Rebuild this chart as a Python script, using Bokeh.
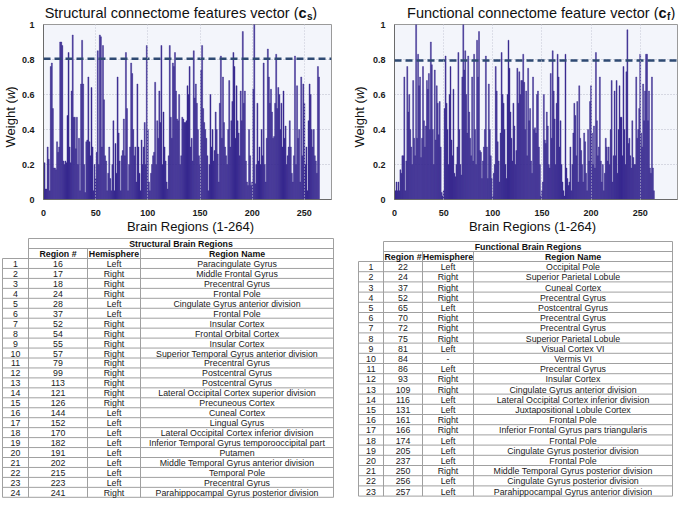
import math
from bokeh.plotting import figure
from bokeh.models import Range1d, Span, FixedTicker
from bokeh.layouts import column, row
from bokeh.core.properties import value
from bokeh.embed import file_html
from bokeh.resources import INLINE

# ---------------- data ----------------
regions = list(range(1, 265))

struct_w = [
    0.21, 0.06, 0.06, 0.30, 0.23, 0.05, 0.76, 0.78, 0.52, 0.18,
    0.18, 0.17, 0.33, 0.27, 0.30, 0.90, 0.90, 0.88, 0.22, 0.20,
    0.22, 0.21, 0.48, 0.84, 0.30, 0.21, 0.62, 0.94, 0.47, 0.47,
    0.29, 0.47, 0.20, 0.35, 0.05, 0.66, 0.91, 0.66, 0.20, 0.04,
    0.33, 0.34, 0.70, 0.33, 0.25, 0.64, 0.30, 0.05, 0.20, 0.12,
    0.27, 0.85, 0.20, 0.94, 0.93, 0.30, 0.88, 0.57, 0.25, 0.22,
    0.05, 0.15, 0.30, 0.12, 0.05, 0.20, 0.45, 0.05, 0.32, 0.15,
    0.70, 0.38, 0.22, 0.05, 0.25, 0.28, 0.46, 0.25, 0.84, 0.52,
    0.05, 0.20, 0.30, 0.78, 0.72, 0.40, 0.25, 0.30, 0.10, 0.66,
    0.30, 0.15, 0.05, 0.34, 0.20, 0.30, 0.44, 0.20, 0.88, 0.40,
    0.10, 0.05, 0.15, 0.20, 0.25, 0.27, 0.67, 0.20, 0.45, 0.35,
    0.62, 0.44, 0.88, 0.20, 0.50, 0.30, 0.22, 0.10, 0.06, 0.25,
    0.88, 0.47, 0.35, 0.78, 0.76, 0.84, 0.62, 0.46, 0.45, 0.60,
    0.20, 0.25, 0.47, 0.46, 0.44, 0.44, 0.45, 0.65, 0.60, 0.76,
    0.30, 0.35, 0.22, 0.85, 0.58, 0.66, 0.55, 0.40, 0.25, 0.20,
    0.74, 0.88, 0.52, 0.44, 0.40, 0.35, 0.25, 0.05, 0.20, 0.60,
    0.30, 0.40, 0.22, 0.28, 0.50, 0.40, 0.26, 0.10, 0.55, 0.82,
    0.35, 0.70, 0.44, 0.30, 0.25, 0.20, 0.40, 0.68, 0.30, 0.45,
    0.56, 0.84, 0.76, 0.35, 0.65, 0.45, 0.38, 0.25, 0.62, 0.45,
    0.96, 0.55, 0.62, 0.22, 0.10, 0.08, 0.40, 0.25, 0.08, 0.10,
    0.63, 1.00, 0.09, 0.20, 0.55, 0.22, 0.30, 0.20, 0.40, 0.25,
    0.78, 0.20, 0.10, 0.35, 0.86, 0.70, 0.55, 0.63, 0.50, 0.35,
    0.36, 0.55, 0.83, 0.52, 0.64, 0.60, 0.40, 0.55, 0.30, 0.62,
    0.35, 0.42, 0.20, 0.25, 0.30, 0.45, 0.30, 0.15, 0.10, 0.25,
    0.82, 0.20, 0.65, 0.35, 0.40, 0.10, 0.70, 0.25, 0.66, 0.55,
    0.20, 0.30, 0.05, 0.45, 0.66, 0.60, 0.40, 0.30, 0.40, 0.25,
    0.22, 0.15, 0.76, 0.70,
]

func_w = [
    0.05, 0.10, 0.05, 0.10, 0.05, 0.17, 0.15, 0.25, 0.25, 0.70,
    0.05, 0.22, 0.76, 0.50, 0.60, 0.40, 0.30, 0.20, 0.68, 0.35,
    0.25, 1.00, 0.35, 0.83, 0.65, 0.70, 0.24, 0.35, 0.76, 0.45,
    0.30, 0.42, 0.68, 0.63, 0.72, 0.40, 0.90, 0.77, 0.40, 0.20,
    0.74, 0.34, 0.65, 0.55, 0.37, 0.56, 0.30, 0.04, 0.02, 0.05,
    0.52, 0.82, 0.55, 0.40, 0.20, 0.60, 0.76, 0.34, 0.25, 0.63,
    0.15, 0.13, 0.20, 0.30, 0.84, 0.40, 0.20, 0.14, 0.70, 1.00,
    0.74, 0.85, 0.60, 0.38, 0.82, 0.50, 0.35, 0.25, 0.70, 0.22,
    0.83, 0.40, 0.20, 0.91, 0.70, 0.96, 0.28, 0.27, 0.12, 0.22,
    0.30, 0.40, 0.82, 0.30, 0.12, 0.66, 0.40, 0.25, 0.12, 0.02,
    0.15, 0.20, 0.76, 0.62, 0.33, 0.22, 0.10, 0.38, 0.84, 0.60,
    0.55, 0.40, 0.20, 0.12, 0.60, 0.91, 0.75, 0.50, 0.35, 0.22,
    0.55, 0.42, 0.20, 0.28, 0.75, 0.55, 0.73, 0.60, 0.68, 0.68,
    0.83, 0.67, 0.40, 0.62, 0.25, 0.75, 0.45, 0.52, 0.22, 0.15,
    0.70, 0.40, 0.41, 0.38, 0.60, 0.62, 0.30, 0.20, 0.02, 0.05,
    0.10, 0.60, 0.34, 0.32, 0.50, 0.42, 0.20, 0.18, 0.72, 0.35,
    0.85, 0.62, 0.46, 0.20, 0.55, 0.83, 0.70, 0.30, 0.45, 0.20,
    0.10, 0.05, 0.02, 0.83, 0.18, 0.12, 0.08, 0.10, 0.30, 0.05,
    0.20, 0.38, 0.55, 0.48, 0.25, 0.56, 0.10, 0.65, 0.35, 0.28,
    0.20, 0.10, 0.38, 0.33, 0.15, 0.05, 0.40, 0.22, 0.56, 0.65,
    0.38, 0.20, 0.42, 0.18, 0.84, 0.45, 0.25, 0.30, 0.70, 0.22,
    0.10, 0.20, 0.05, 0.15, 0.35, 0.30, 0.22, 0.30, 0.20, 0.40,
    0.68, 0.10, 0.25, 0.62, 0.25, 0.68, 0.15, 0.40, 0.65, 0.47,
    0.47, 0.25, 0.76, 0.40, 0.20, 0.73, 0.97, 0.32, 0.35, 0.25,
    0.18, 0.45, 0.24, 0.20, 0.20, 0.70, 0.35, 0.40, 0.52, 0.83,
    0.38, 0.30, 0.66, 0.45, 0.62, 0.83, 0.83, 0.45, 0.62, 0.18,
    0.15, 0.70, 0.18, 0.05,
]

struct_threshold = 0.805
func_threshold = 0.795
struct_xmax = 276
func_xmax = 288

x_ticks = [0, 50, 100, 150, 200, 250]
y_ticks = [0, 0.2, 0.4, 0.6, 0.8, 1]
y_tick_labels = ["0", "0.2", "0.4", "0.6", "0.8", "1"]

struct_title_main = "Structural connectome features vector ("
func_title_main = "Functional connectome feature vector ("
x_label = "Brain Regions (1-264)"

struct_title = "Structural Brain Regions"
func_title = "Functional Brain Regions"
col_heads = ["Region #", "Hemisphere", "Region Name"]

struct_region = [16, 17, 18, 24, 28, 37, 52, 54, 55, 57, 79, 99, 113, 121,
                 126, 144, 152, 170, 182, 191, 202, 215, 223, 241]
struct_hemi = ["Left", "Right", "Right", "Right", "Left", "Left", "Right",
               "Right", "Right", "Right", "Right", "Right", "Right", "Right",
               "Right", "Left", "Left", "Left", "Left", "Left", "Left",
               "Left", "Left", "Right"]
struct_name = ["Paracingulate Gyrus", "Middle Frontal Gyrus",
               "Precentral Gyrus", "Frontal Pole",
               "Cingulate Gyrus anterior division", "Frontal Pole",
               "Insular Cortex", "Frontal Orbital Cortex", "Insular Cortex",
               "Superior Temporal Gyrus anterior division",
               "Precentral Gyrus", "Postcentral Gyrus", "Postcentral Gyrus",
               "Lateral Occipital Cortex superior division",
               "Precuneous Cortex", "Cuneal Cortex", "Lingual Gyrus",
               "Lateral Occipital Cortex inferior division",
               "Inferior Temporal Gyrus temporooccipital part", "Putamen",
               "Middle Temporal Gyrus anterior division", "Temporal Pole",
               "Precentral Gyrus", "Parahippocampal Gyrus posterior division"]

func_region = [22, 24, 37, 52, 65, 70, 72, 75, 81, 84, 86, 93, 109, 116,
               131, 161, 166, 174, 205, 237, 250, 256, 257]
func_hemi = ["Left", "Right", "Right", "Right", "Left", "Right", "Right",
             "Right", "Left", "-", "Left", "Right", "Right", "Left", "Left",
             "Right", "Right", "Left", "Left", "Left", "Right", "Left",
             "Left"]
func_name = ["Occipital Pole", "Superior Parietal Lobule", "Cuneal Cortex",
             "Precentral Gyrus", "Postcentral Gyrus", "Precentral Gyrus",
             "Precentral Gyrus", "Superior Parietal Lobule",
             "Visual Cortex VI", "Vermis VI", "Precentral Gyrus",
             "Insular Cortex", "Cingulate Gyrus anterior division",
             "Lateral Occipital Cortex inferior division",
             "Juxtapositional Lobule Cortex", "Frontal Pole",
             "Inferior Frontal Gyrus pars triangularis", "Frontal Pole",
             "Cingulate Gyrus posterior division", "Frontal Pole",
             "Middle Temporal Gyrus posterior division",
             "Cingulate Gyrus posterior division",
             "Parahippocampal Gyrus anterior division"]

# ---------------- style ----------------
FONT = value("Liberation Sans")
TXT = "#111111"
BAR = "#38298f"
TITLE_H = 20
CHART_H = 198
XLAB_H = 18
FRAME_H = 177
BORDER_TOP = 4


def strip(w, h):
    p = figure(width=w, height=h, x_range=Range1d(0, w), y_range=Range1d(h, 0),
               output_backend="svg", toolbar_location=None, min_border=0,
               x_axis_location=None, y_axis_location=None)
    p.grid.visible = False
    p.outline_line_color = None
    p.background_fill_color = "white"
    p.border_fill_color = "white"
    return p


def txt(p, x, y, s, size, align="left", style="normal", angle=0.0):
    p.text(x=[x], y=[y], text=[s], text_align=align, text_baseline="middle",
           text_font=FONT, text_font_size=value(size),
           text_font_style=style, angle=angle, text_color=TXT)


def chart(vals, xmax, thr, width, bl, br):
    p = figure(width=width, height=CHART_H, x_range=Range1d(0, xmax),
               y_range=Range1d(0, 1), output_backend="svg",
               toolbar_location=None, min_border_left=bl,
               min_border_right=br, min_border_top=BORDER_TOP,
               min_border_bottom=CHART_H - BORDER_TOP - FRAME_H)
    p.background_fill_color = "#f3f5fb"
    p.border_fill_color = "white"
    p.outline_line_color = "#9a9a9a"
    p.vbar(x=regions, top=vals, width=1.0, fill_color=BAR, line_color=BAR,
           line_width=0.4)
    p.add_layout(Span(location=thr, dimension="width", line_color="#2f4a73",
                      line_width=2.5, line_dash="7 4"))
    for ax in (p.xaxis[0], p.yaxis[0]):
        ax.major_tick_line_color = None
        ax.minor_tick_line_color = None
        ax.axis_line_color = "#6a6a6a"
        ax.major_label_text_font = "Liberation Sans"
        ax.major_label_text_font_size = "9px"
        ax.major_label_text_font_style = "bold"
        ax.major_label_text_color = "#1a1a1a"
        ax.major_label_standoff = 3
    p.xaxis.major_label_standoff = 4
    p.xaxis.ticker = FixedTicker(ticks=x_ticks)
    p.yaxis.ticker = FixedTicker(ticks=y_ticks)
    p.yaxis.major_label_overrides = {t: s for t, s in zip(y_ticks, y_tick_labels)}
    p.xgrid.grid_line_color = "#c4c6d4"
    p.xgrid.grid_line_dash = "1 2"
    p.xgrid.level = "overlay"
    p.ygrid.grid_line_color = "#b8bac8"
    p.ygrid.grid_line_dash = "1 2"
    return p


def block(vals, xmax, thr, total_w, ylab_w, ylab_x, bl, br, main, sub,
          tx, xlab_x):
    t = strip(total_w, TITLE_H)
    ty = 12
    txt(t, tx, ty, main, "14.5px", "right")
    txt(t, tx, ty, "c", "14.5px", "left", "bold")
    txt(t, tx + 8.4, ty + 3.5, sub, "10px", "left", "bold")
    txt(t, tx + 8.4 + (5.3 if sub == "s" else 3.5), ty, ")", "14.5px")
    yl = strip(ylab_w, CHART_H)
    yend = 84.6
    txt(yl, ylab_x, yend, "Weight (", "13px", "right", angle=math.pi / 2)
    txt(yl, ylab_x, yend, "w", "13px", "left", "italic", angle=math.pi / 2)
    txt(yl, ylab_x, yend - 9.6, ")", "13px", "left", angle=math.pi / 2)
    c = chart(vals, xmax, thr, total_w - ylab_w, bl, br)
    xl = strip(total_w, XLAB_H)
    txt(xl, xlab_x, 8, x_label, "13px", "center")
    return column(t, row(yl, c), xl)


LEFT_W = 340
RIGHT_W = 339
b1 = block(struct_w, struct_xmax, struct_threshold, LEFT_W, 18, 9.5, 16, 9,
           struct_title_main, "s", 298, 190)
b2 = block(func_w, func_xmax, func_threshold, RIGHT_W, 29, 19, 16, 2,
           func_title_main, "f", 318, 192)

TAB_H = 262


def table(width, xs, top, head_h, row_h, title, reg, hemi, names):
    p = strip(width, TAB_H)
    n = len(reg)
    y_title = top
    y_head = top + head_h
    y_data = top + 2 * head_h
    y_end = y_data + n * row_h
    x0s, y0s, x1s, y1s = [], [], [], []

    def seg(a, b, c, d):
        x0s.append(a); y0s.append(b); x1s.append(c); y1s.append(d)

    seg(xs[1], y_title, xs[4], y_title)
    seg(xs[1], y_head, xs[4], y_head)
    for i in range(n + 1):
        y = y_data + i * row_h
        seg(xs[0], y, xs[4], y)
    seg(xs[0], y_data, xs[0], y_end)
    seg(xs[1], y_title, xs[1], y_end)
    seg(xs[2], y_head, xs[2], y_end)
    seg(xs[3], y_head, xs[3], y_end)
    seg(xs[4], y_title, xs[4], y_end)
    p.segment(x0=x0s, y0=y0s, x1=x1s, y1=y1s, line_color="#a0a0a0",
              line_width=1)

    fs = value("8.8px")
    p.text(x=[(xs[1] + xs[4]) / 2], y=[y_title + head_h / 2 + 0.5],
           text=[title], text_align="center", text_baseline="middle",
           text_font=FONT, text_font_size=fs, text_font_style="bold",
           text_color=TXT)
    cx = [(xs[i] + xs[i + 1]) / 2 for i in range(4)]
    p.text(x=cx[1:], y=[y_head + head_h / 2 + 0.5] * 3, text=col_heads,
           text_align="center", text_baseline="middle", text_font=FONT,
           text_font_size=fs, text_font_style="bold", text_color=TXT)
    ys = [y_data + (i + 0.5) * row_h + 0.5 for i in range(n)]
    for j, col in enumerate([[str(i + 1) for i in range(n)],
                             [str(r) for r in reg], hemi, names]):
        p.text(x=[cx[j]] * n, y=ys, text=col, text_align="center",
               text_baseline="middle", text_font=FONT, text_font_size=fs,
               text_color="#1a1a1a")
    return p


t1 = table(LEFT_W, [2, 28, 87, 140, 333], 2, 10, 9.95, struct_title,
           struct_region, struct_hemi, struct_name)
t2 = table(RIGHT_W, [18, 43, 82, 133, 332], 5, 10, 10.2, func_title,
           func_region, func_hemi, func_name)

layout = column(row(b1, b2), row(t1, t2))
open("out.html", "w").write(file_html(layout, INLINE))
